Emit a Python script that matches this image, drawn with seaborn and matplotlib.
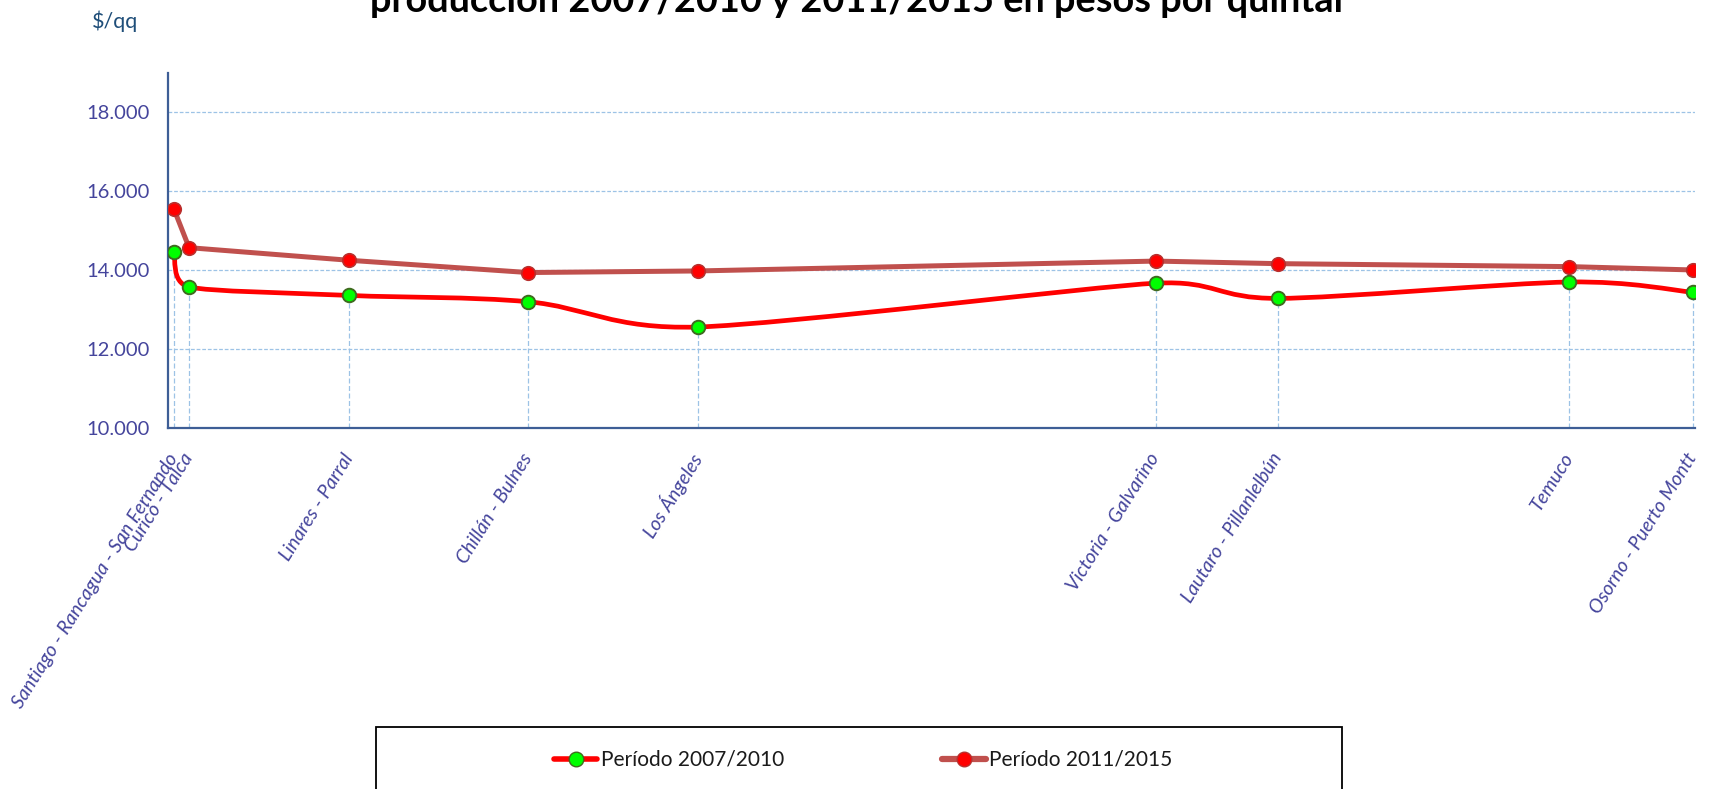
import numpy as np
import matplotlib
matplotlib.use('Agg')
import matplotlib.pyplot as plt
from matplotlib.path import Path
from matplotlib.patches import PathPatch, Rectangle
from matplotlib.lines import Line2D
import seaborn as sns

# datos
zonas = ['Santiago - Rancagua - San Fernando', 'Curicó - Talca', 'Linares - Parral',
         'Chillán - Bulnes', 'Los Ángeles', 'Victoria - Galvarino',
         'Lautaro - Pillanlelbún', 'Temuco', 'Osorno - Puerto Montt']
posicion = [0.4, 1.4, 11.9, 23.6, 34.7, 64.7, 72.7, 91.8, 99.9]
periodo_2007_2010 = [14470, 13580, 13365, 13205, 12565, 13675, 13290, 13705, 13445]
periodo_2011_2015 = [15560, 14575, 14255, 13945, 13985, 14235, 14170, 14095, 14010]
y_ticks = [10000, 12000, 14000, 16000, 18000]
series_names = ['Período 2007/2010', 'Período 2011/2015']
titulo = 'producción 2007/2010 y 2011/2015 en pesos por quintal'
unidad = '$/qq'

label_color = '#45459C'
grid_color = '#9DC3E6'


def smooth_path(ax, xs, ys):
    # curva suavizada tipo Excel (bezier) calculada en pixeles
    pts = ax.transData.transform(np.column_stack([xs, ys]))
    n = len(pts)
    tang = []
    for i in range(n):
        prev = pts[max(i - 1, 0)]
        nxt = pts[min(i + 1, n - 1)]
        t = (nxt - prev) / 6.0
        lims = []
        if i > 0:
            lims.append(np.hypot(*(pts[i] - pts[i - 1])) / 2)
        if i < n - 1:
            lims.append(np.hypot(*(pts[i + 1] - pts[i])) / 2)
        L = np.hypot(*t)
        m = min(lims)
        if L > m:
            t = t * m / L
        tang.append(t)
    verts = [pts[0]]
    codes = [Path.MOVETO]
    for i in range(n - 1):
        verts += [pts[i] + tang[i], pts[i + 1] - tang[i + 1], pts[i + 1]]
        codes += [Path.CURVE4] * 3
    verts = ax.transData.inverted().transform(np.array(verts))
    return Path(verts, codes)


sns.set_style('white')
plt.rcParams['font.family'] = ['Lato', 'DejaVu Sans']

fig = plt.figure(figsize=(17.13, 7.89), dpi=100)
ax = fig.add_axes([0.0979, 0.4572, 0.8914, 0.4503])
ax.set_xlim(0, 100)
ax.set_ylim(10000, 19000)

# grilla y lineas de caida
ax.set_yticks(y_ticks)
ax.yaxis.grid(True, color=grid_color, linestyle=(0, (3, 1.5)), lw=0.9)
ax.xaxis.grid(False)
ax.set_axisbelow(True)
ax.vlines(posicion, 10000, periodo_2007_2010, colors=grid_color,
          linestyles=(0, (4, 2)), lw=0.9, zorder=1)

# periodo 2011/2015 (lineas rectas)
sns.lineplot(x=posicion, y=periodo_2011_2015, color='#C0504D', lw=3.6,
             sort=False, ax=ax, zorder=3, legend=False)
sns.scatterplot(x=posicion, y=periodo_2011_2015, color='#FF0000', s=95,
                edgecolor='#B8302E', linewidth=1.2, ax=ax, zorder=4, legend=False)

# periodo 2007/2010 (linea suavizada)
ax.add_patch(PathPatch(smooth_path(ax, posicion, periodo_2007_2010), fill=False,
                       edgecolor='#FF0000', lw=3.4, capstyle='round', zorder=5))
sns.scatterplot(x=posicion, y=periodo_2007_2010, color='#00FF00', s=95,
                edgecolor='#3F6A1F', linewidth=1.4, ax=ax, zorder=6, legend=False)

sns.despine(ax=ax)
for side in ['left', 'bottom']:
    ax.spines[side].set_color('#3E5E96')
    ax.spines[side].set_linewidth(1.6)

ax.set_yticklabels([f'{v:,.0f}'.replace(',', '.') for v in y_ticks],
                   fontsize=14.5, color=label_color)
ax.tick_params(axis='y', length=0, pad=13)
ax.set_xticks(posicion)
ax.set_xticklabels(zonas, rotation=58, ha='right', va='center', rotation_mode='anchor',
                   fontsize=14, fontstyle='italic', color=label_color)
ax.tick_params(axis='x', length=0, pad=19)
ax.set_xlabel('')
ax.set_ylabel('')

# titulo (cortado arriba como en el original)
t = fig.text(856 / 1713, 1 - 12 / 789, titulo, ha='center', va='baseline',
             fontsize=24, fontweight='bold', color='black')
renderer = fig.canvas.get_renderer()
w = t.get_window_extent(renderer).width
t.set_fontsize(24 * 972 / w)

fig.text(92 / 1713, 1 - 28 / 789, unidad, ha='left', va='baseline',
         fontsize=15.5, color='#1F4E79')

# leyenda
handles = [
    Line2D([], [], color='#FF0000', lw=4, marker='o', markersize=10.5,
           markerfacecolor='#00FF00', markeredgecolor='#3F6A1F'),
    Line2D([], [], color='#C0504D', lw=4.5, marker='o', markersize=10.5,
           markerfacecolor='#FF0000', markeredgecolor='#B8302E'),
]
fig.legend(handles, series_names, loc='center', bbox_to_anchor=(0.5038, 0.0368),
           ncol=2, frameon=False, fontsize=15, handlelength=2.1, handletextpad=0.15,
           columnspacing=7.6, borderpad=0, labelcolor='#1A1A1A')
fig.add_artist(Rectangle((376 / 1713, -0.05), (1342 - 376) / 1713, 0.05 + 1 - 727 / 789,
                         transform=fig.transFigure, fill=False, ec='black', lw=1.3))

fig.savefig('out.png', dpi=100)
plt.close(fig)
